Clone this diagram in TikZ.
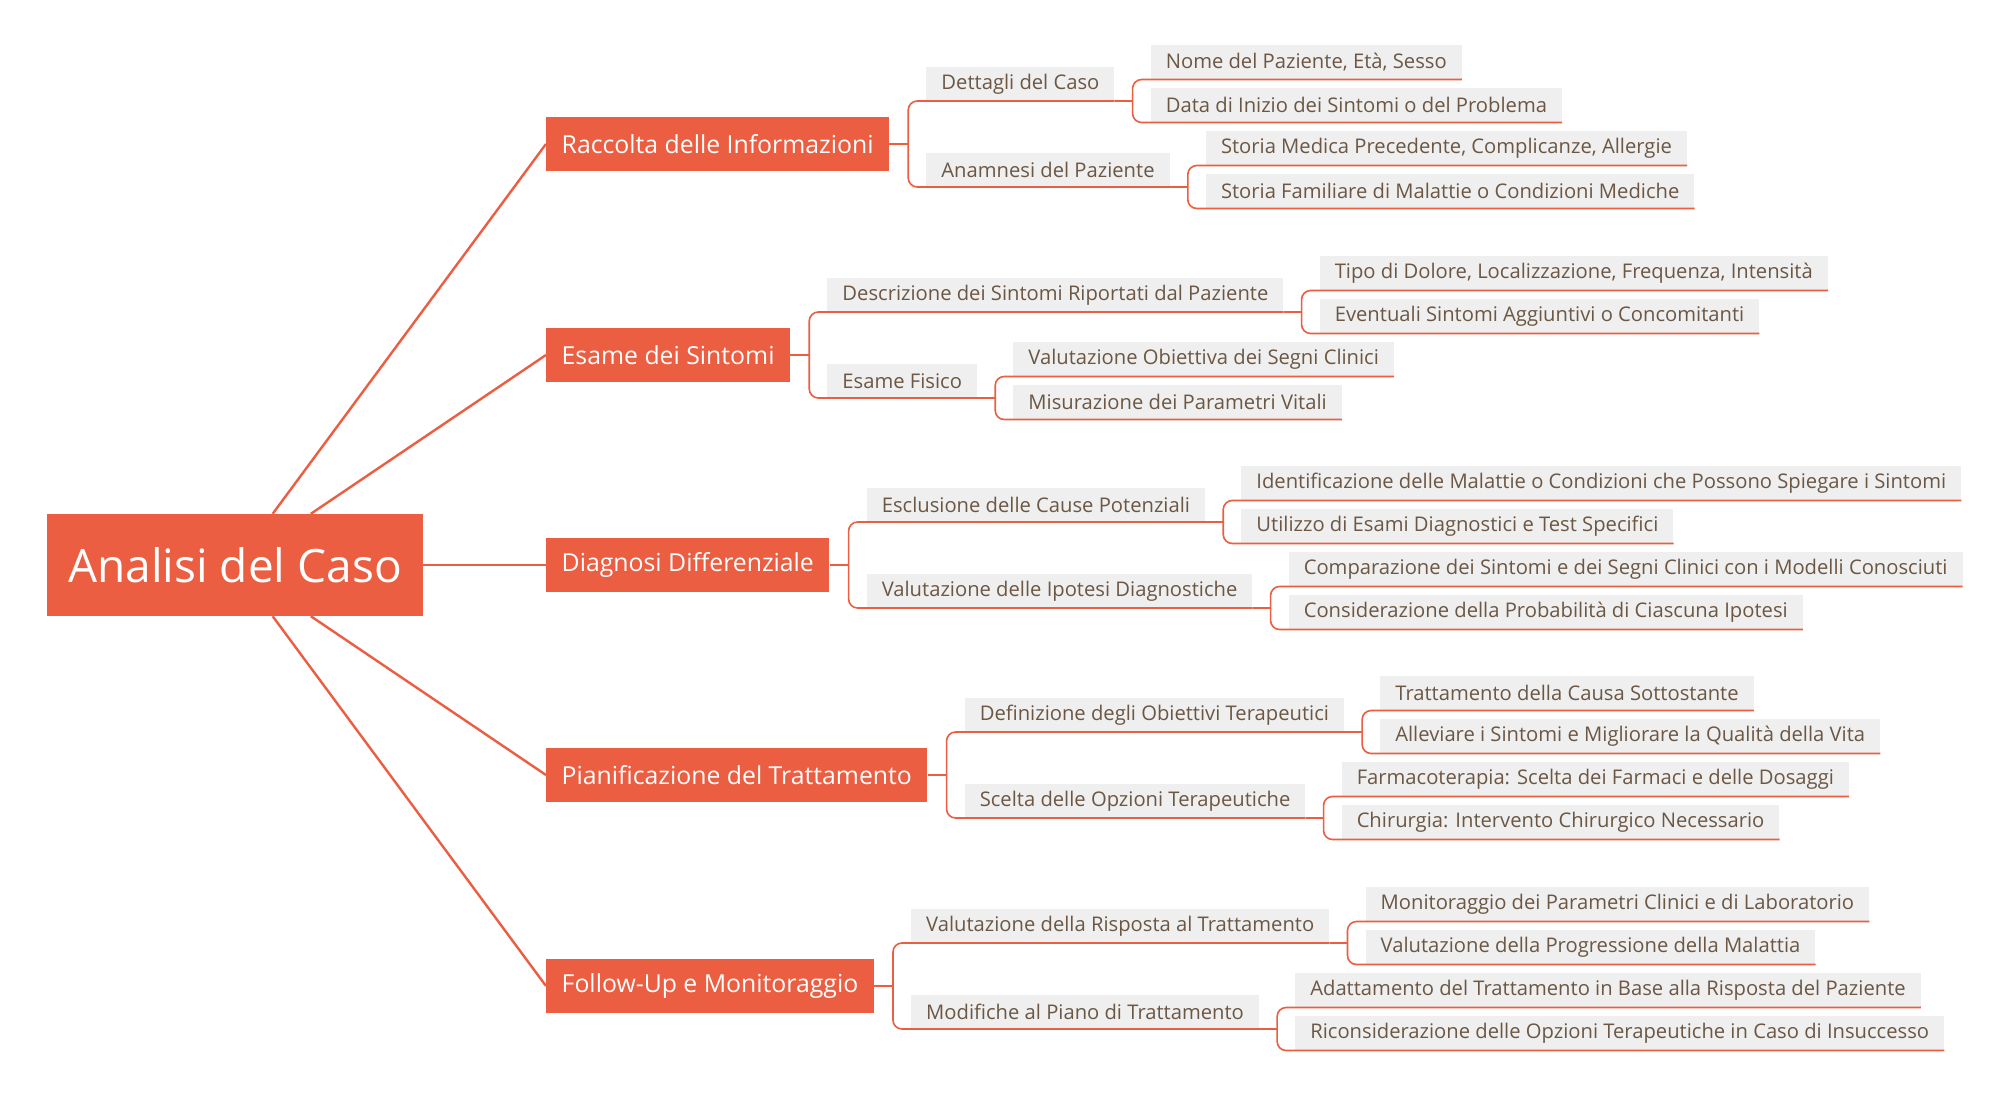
\documentclass[tikz,border=0pt]{standalone}
\usepackage{fontspec}
\setmainfont{Open Sans}
\usepackage{tikz}
\usetikzlibrary{positioning,calc}
\definecolor{coral}{HTML}{EB5E41}
\definecolor{leafgray}{HTML}{EFEFEF}
\definecolor{bark}{HTML}{6B5744}
\tikzset{
  hub/.style={fill=coral,text=white,font=\fontsize{46}{50}\selectfont,
              minimum height=102pt,inner xsep=21pt},
  topic/.style={fill=coral,text=white,font=\fontsize{24.8}{28}\selectfont,
              minimum height=54pt,inner xsep=15.5pt,anchor=west},
  sub/.style={fill=leafgray,text=bark,font=\fontsize{20.2}{24}\selectfont,
              minimum height=34pt,inner xsep=15pt,inner ysep=0pt,anchor=south west},
  spoke/.style={coral,line width=2.4pt},
  fork/.style={coral,line width=1.6pt,rounded corners=9pt},
}
\begin{document}
\begin{tikzpicture}[x=1pt,y=-1pt]
\path[fill=white,use as bounding box] (0,0) rectangle (2015,1110);
% centre and main topics
\node[hub] (root) at (235,565) {Analisi del Caso};
\node[topic] (rac) at (546,144) {Raccolta delle Informazioni};
\node[topic] (esa) at (546,355) {Esame dei Sintomi};
\node[topic] (dia) at (546,565) {Diagnosi Differenziale};
\node[topic] (pia) at (546,775) {Pianificazione del Trattamento};
\node[topic] (fol) at (546,986) {Follow-Up e Monitoraggio};
\foreach \t in {rac,esa,dia,pia,fol}
  \draw[spoke] (root) -- (\t.west);
% Raccolta delle Informazioni
\node[sub] (rac1) at ($(rac.east)+(37,-43)$) {Dettagli del Caso};
\node[sub] (rac2) at ($(rac.east)+(37,43)$) {Anamnesi del Paziente};
\node[sub] (rac11) at ($(rac1.south east)+(36,-21.5)$) {Nome del Paziente, Età, Sesso};
\node[sub] (rac12) at ($(rac1.south east)+(36,21.5)$) {Data di Inizio dei Sintomi o del Problema};
\node[sub] (rac21) at ($(rac2.south east)+(36,-21.5)$) {Storia Medica Precedente, Complicanze, Allergie};
\node[sub] (rac22) at ($(rac2.south east)+(36,21.5)$) {Storia Familiare di Malattie o Condizioni Mediche};
% Esame dei Sintomi
\node[sub] (esa1) at ($(esa.east)+(37,-43)$) {Descrizione dei Sintomi Riportati dal Paziente};
\node[sub] (esa2) at ($(esa.east)+(37,43)$) {Esame Fisico};
\node[sub] (esa11) at ($(esa1.south east)+(36,-21.5)$) {Tipo di Dolore, Localizzazione, Frequenza, Intensità};
\node[sub] (esa12) at ($(esa1.south east)+(36,21.5)$) {Eventuali Sintomi Aggiuntivi o Concomitanti};
\node[sub] (esa21) at ($(esa2.south east)+(36,-21.5)$) {Valutazione Obiettiva dei Segni Clinici};
\node[sub] (esa22) at ($(esa2.south east)+(36,21.5)$) {Misurazione dei Parametri Vitali};
% Diagnosi Differenziale
\node[sub] (dia1) at ($(dia.east)+(37,-43)$) {Esclusione delle Cause Potenziali};
\node[sub] (dia2) at ($(dia.east)+(37,43)$) {Valutazione delle Ipotesi Diagnostiche};
\node[sub] (dia11) at ($(dia1.south east)+(36,-21.5)$) {Identificazione delle Malattie o Condizioni che Possono Spiegare i Sintomi};
\node[sub] (dia12) at ($(dia1.south east)+(36,21.5)$) {Utilizzo di Esami Diagnostici e Test Specifici};
\node[sub] (dia21) at ($(dia2.south east)+(36,-21.5)$) {Comparazione dei Sintomi e dei Segni Clinici con i Modelli Conosciuti};
\node[sub] (dia22) at ($(dia2.south east)+(36,21.5)$) {Considerazione della Probabilità di Ciascuna Ipotesi};
% Pianificazione del Trattamento
\node[sub] (pia1) at ($(pia.east)+(37,-43)$) {Definizione degli Obiettivi Terapeutici};
\node[sub] (pia2) at ($(pia.east)+(37,43)$) {Scelta delle Opzioni Terapeutiche};
\node[sub] (pia11) at ($(pia1.south east)+(36,-21.5)$) {Trattamento della Causa Sottostante};
\node[sub] (pia12) at ($(pia1.south east)+(36,21.5)$) {Alleviare i Sintomi e Migliorare la Qualità della Vita};
\node[sub] (pia21) at ($(pia2.south east)+(36,-21.5)$) {Farmacoterapia: Scelta dei Farmaci e delle Dosaggi};
\node[sub] (pia22) at ($(pia2.south east)+(36,21.5)$) {Chirurgia: Intervento Chirurgico Necessario};
% Follow-Up e Monitoraggio
\node[sub] (fol1) at ($(fol.east)+(37,-43)$) {Valutazione della Risposta al Trattamento};
\node[sub] (fol2) at ($(fol.east)+(37,43)$) {Modifiche al Piano di Trattamento};
\node[sub] (fol11) at ($(fol1.south east)+(36,-21.5)$) {Monitoraggio dei Parametri Clinici e di Laboratorio};
\node[sub] (fol12) at ($(fol1.south east)+(36,21.5)$) {Valutazione della Progressione della Malattia};
\node[sub] (fol21) at ($(fol2.south east)+(36,-21.5)$) {Adattamento del Trattamento in Base alla Risposta del Paziente};
\node[sub] (fol22) at ($(fol2.south east)+(36,21.5)$) {Riconsiderazione delle Opzioni Terapeutiche in Caso di Insuccesso};
% forks, each ending in the child's underline
\foreach \p in {rac,esa,dia,pia,fol} {
  \draw[fork] (\p.east) -- ++(19,0) coordinate (\p-j);
  \draw[fork] (\p-j) |- (\p1.south east);
  \draw[fork] (\p-j) |- (\p2.south east);
}
\foreach \p in {rac1,rac2,esa1,esa2,dia1,dia2,pia1,pia2,fol1,fol2} {
  \draw[fork] (\p.south east) -- ++(18,0) coordinate (\p-j);
  \draw[fork] (\p-j) |- (\p1.south east);
  \draw[fork] (\p-j) |- (\p2.south east);
}
\end{tikzpicture}
\end{document}
